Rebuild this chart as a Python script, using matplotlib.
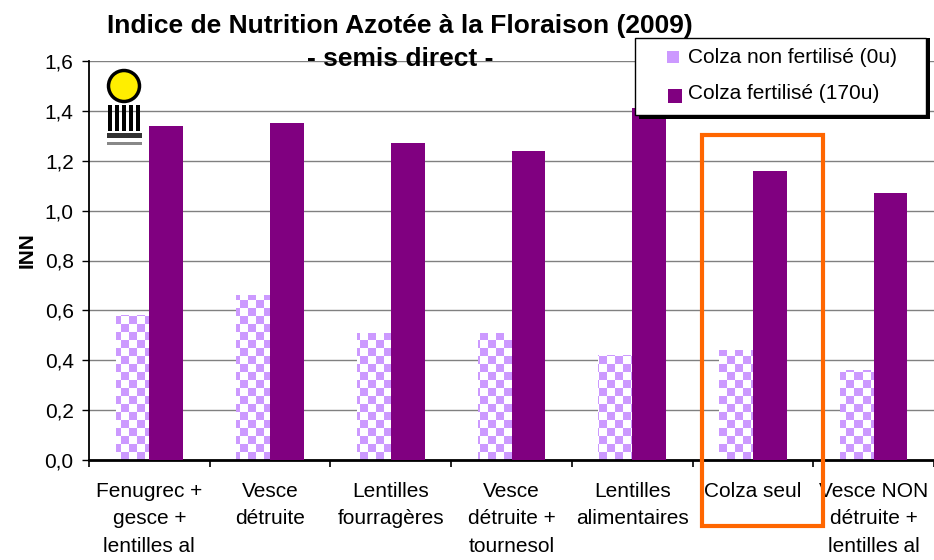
import numpy as np
import matplotlib.pyplot as plt
from matplotlib.patches import Rectangle, Ellipse
from matplotlib.colors import ListedColormap

plt.rcParams['font.family'] = ['Liberation Sans', 'DejaVu Sans']

categories = ["Fenugrec +\ngesce +\nlentilles al", "Vesce\ndétruite", "Lentilles\nfourragères",
              "Vesce\ndétruite +\ntournesol", "Lentilles\nalimentaires", "Colza seul",
              "Vesce NON\ndétruite +\nlentilles al"]
non_fert = [0.58, 0.66, 0.51, 0.51, 0.42, 0.44, 0.36]
fert = [1.34, 1.35, 1.27, 1.24, 1.41, 1.16, 1.07]
yticks = [0.0, 0.2, 0.4, 0.6, 0.8, 1.0, 1.2, 1.4, 1.6]

light = '#CC99FF'
dark = '#800080'
W, H = 934, 560

fig = plt.figure(figsize=(9.34, 5.6), dpi=100)
ax = fig.add_axes([89 / W, 1 - 460 / H, 1 - 89 / W, 399 / H])

x = np.arange(len(categories)) + 0.5
w = 0.28

# checkered pattern for the non-fertilised bars (about 8 px cells)
n_c, n_r = 106, 50
cb = (np.add.outer(np.arange(n_r), np.arange(n_c)) % 2).astype(float)
cmap = ListedColormap(['white', light])
bars_l = ax.bar(x - w / 2, non_fert, w, color='white', edgecolor='none', zorder=2)
for b in bars_l:
    im = ax.imshow(cb, cmap=cmap, extent=(0, 1, 0, 1), transform=ax.transAxes,
                   interpolation='nearest', aspect='auto', zorder=2.5)
    im.set_clip_path(b)
ax.bar(x + w / 2, fert, w, color=dark, edgecolor='none', zorder=3)

ax.set_xlim(0, len(categories))
ax.set_ylim(0, 1.6)
ax.set_yticks(yticks)
ax.set_yticklabels([f"{v:.1f}".replace('.', ',') for v in yticks], fontsize=15)
ax.yaxis.grid(True, color='#808080', linewidth=1)
ax.set_axisbelow(True)

ax.set_xticks(np.arange(len(categories) + 1))
ax.set_xticklabels([])
ax.set_xticks(x, minor=True)
ax.set_xticklabels(categories, minor=True, fontsize=15, linespacing=1.55)
ax.tick_params(axis='x', which='minor', length=0, pad=16)
ax.tick_params(axis='x', which='major', length=5, direction='out', width=1.2)
ax.tick_params(axis='y', length=5, direction='out', width=1, pad=6)
for s in ['top', 'right']:
    ax.spines[s].set_visible(False)
ax.spines['left'].set_linewidth(1.3)
ax.spines['bottom'].set_linewidth(2)

fig.text(27 / W, 1 - 250 / H, "INN", rotation=90, ha='center', va='center',
         fontsize=15, fontweight='bold')

fig.text(400 / W, 1 - 33 / H, "Indice de Nutrition Azotée à la Floraison (2009)", ha='center',
         va='baseline', fontsize=19, fontweight='bold')
fig.text(400 / W, 1 - 66 / H, "- semis direct -", ha='center', va='baseline',
         fontsize=19, fontweight='bold')

# legend box with shadow
fig.patches.append(Rectangle((639 / W, 1 - 119 / H), 291 / W, 81 / H, transform=fig.transFigure,
                             facecolor='black', edgecolor='none', zorder=5))
fig.patches.append(Rectangle((635 / W, 1 - 115 / H), 291 / W, 77 / H, transform=fig.transFigure,
                             facecolor='white', edgecolor='black', linewidth=1, zorder=6))
fig.patches.append(Rectangle((667 / W, 1 - 63 / H), 12 / W, 12 / H, transform=fig.transFigure,
                             facecolor=light, edgecolor='none', zorder=7))
fig.patches.append(Rectangle((668 / W, 1 - 103 / H), 14 / W, 14 / H, transform=fig.transFigure,
                             facecolor=dark, edgecolor='none', zorder=7))
fig.text(688 / W, 1 - 63 / H, "Colza non fertilisé (0u)", fontsize=15, va='baseline', zorder=8)
fig.text(688 / W, 1 - 99 / H, "Colza fertilisé (170u)", fontsize=15, va='baseline', zorder=8)

# highlight box around "Colza seul"
fig.patches.append(Rectangle((702 / W, 1 - 526 / H), 121 / W, 391 / H, transform=fig.transFigure,
                             facecolor='none', edgecolor='#FF6600', linewidth=3, zorder=9))

# logo
fig.patches.append(Ellipse((124 / W, 1 - 86 / H), 31 / W, 31 / H, transform=fig.transFigure,
                           facecolor='#FFEE00', edgecolor='black', linewidth=2.5, zorder=9))
for cx in [108, 115, 122, 129, 136]:
    fig.patches.append(Rectangle((cx / W, 1 - 131 / H), 4 / W, 26 / H, transform=fig.transFigure,
                                 facecolor='black', edgecolor='none', zorder=9))
fig.patches.append(Rectangle((107 / W, 1 - 138 / H), 35 / W, 5 / H, transform=fig.transFigure,
                             facecolor='#333333', edgecolor='none', zorder=9))
fig.patches.append(Rectangle((107 / W, 1 - 145 / H), 35 / W, 3 / H, transform=fig.transFigure,
                             facecolor='#888888', edgecolor='none', zorder=9))

fig.savefig("out.png", dpi=100)
